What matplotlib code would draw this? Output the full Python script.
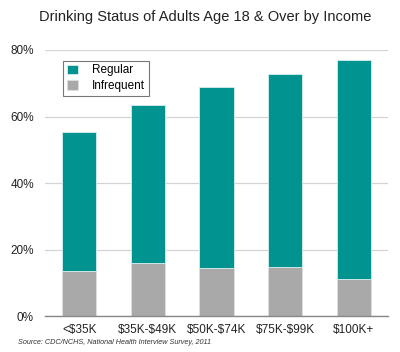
import matplotlib
matplotlib.use('Agg')
import matplotlib.pyplot as plt
from matplotlib.ticker import FuncFormatter

plt.rcParams['font.family'] = ['Liberation Sans', 'DejaVu Sans']
plt.rcParams['text.parse_math'] = False

categories = ['<$35K', '$35K-$49K', '$50K-$74K', '$75K-$99K', '$100K+']
infrequent = [13.6, 16.1, 14.4, 14.7, 11.2]
regular = [41.6, 47.3, 54.4, 58.1, 65.8]

teal = '#00938f'
gray = '#a9a9a9'

fig = plt.figure(figsize=(4, 3.52), dpi=100)
ax = fig.add_axes([0.1125, 0.102, 0.8575, 0.756])

x = list(range(len(categories)))
ax.bar(x, infrequent, width=0.5, color=gray, edgecolor='#e0e0e0', linewidth=0.6,
       label='Infrequent', zorder=3)
ax.bar(x, regular, width=0.5, bottom=infrequent, color=teal, edgecolor='#d8eeee',
       linewidth=0.6, label='Regular', zorder=3)

ax.set_xlim(-0.5, 4.5)
ax.set_ylim(0, 80)
ax.set_yticks([0, 20, 40, 60, 80])
ax.yaxis.set_major_formatter(FuncFormatter(lambda v, p: f'{int(v)}%'))
ax.grid(axis='y', color='#d4d4d4', linewidth=0.9, zorder=0)
for s in ['top', 'right', 'left']:
    ax.spines[s].set_visible(False)
ax.spines['bottom'].set_color('#888888')
ax.spines['bottom'].set_linewidth(1.0)
ax.spines['bottom'].set_zorder(4)
ax.tick_params(length=0, labelsize=8.5, colors='#222222', pad=6)
ax.set_xticks(x)
ax.set_xticklabels(categories)
ax.tick_params(axis='y', pad=8)

handles, labels = ax.get_legend_handles_labels()
leg = ax.legend(handles[::-1], labels[::-1], loc='upper left',
                bbox_to_anchor=(0.052, 0.96), fontsize=8.5, frameon=True,
                fancybox=False, edgecolor='#777777', handlelength=0.95,
                handleheight=0.85, borderpad=0.32, labelspacing=0.32,
                handletextpad=1.2, borderaxespad=0.0)
leg.get_frame().set_linewidth(0.8)
leg.get_frame().set_alpha(1)

fig.text(0.512, 0.952, 'Drinking Status of Adults Age 18 & Over by Income',
         ha='center', va='center', fontsize=10.5, color='#222222')
fig.text(0.045, 0.026, 'Source: CDC/NCHS, National Health Interview Survey, 2011',
         ha='left', va='center', fontsize=5.2, style='italic', color='#333333')

fig.savefig('out.png', dpi=100)
